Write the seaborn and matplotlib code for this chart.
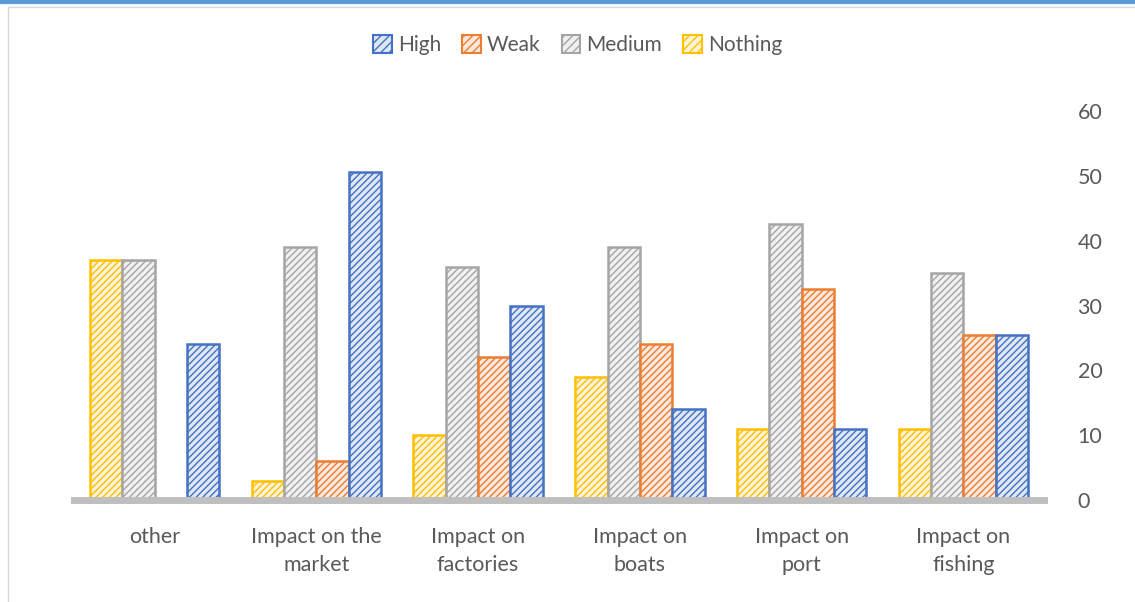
import matplotlib
matplotlib.use("Agg")
import matplotlib.pyplot as plt
import matplotlib.patches as mpatches
from matplotlib.lines import Line2D
import seaborn as sns
import pandas as pd

categories = ["other", "Impact on the\nmarket", "Impact on\nfactories",
              "Impact on\nboats", "Impact on\nport", "Impact on\nfishing"]
nothing = [37, 3, 10, 19, 11, 11]
medium = [37, 39, 36, 39, 42.5, 35]
weak = [0, 6, 22, 24, 32.5, 25.5]
high = [24, 50.5, 30, 14, 11, 25.5]
series_order = ["Nothing", "Medium", "Weak", "High"]
legend_order = ["High", "Weak", "Medium", "Nothing"]

edge_colors = {"Nothing": "#FFC000", "Medium": "#A5A5A5", "Weak": "#ED7D31", "High": "#4472C4"}
face_colors = {"Nothing": "#FFF5D6", "Medium": "#F0F0F0", "Weak": "#FCE8DA", "High": "#DCE6F5"}

rows = []
for name, vals in zip(series_order, [nothing, medium, weak, high]):
    for c, v in zip(categories, vals):
        rows.append({"category": c, "series": name, "value": v})
df = pd.DataFrame(rows)

sns.set_style("white")
plt.rcParams["font.family"] = ["Lato", "DejaVu Sans"]

fig = plt.figure(figsize=(11.35, 6.02), dpi=100)
ax = fig.add_axes([0.065, 0.169, 0.855, 0.647])

sns.barplot(data=df, x="category", y="value", hue="series", order=categories,
            hue_order=series_order, palette=face_colors, width=0.8, gap=0.0,
            ax=ax, legend=False)

for cont, name in zip(ax.containers, series_order):
    for bar in cont:
        bar.set_edgecolor(edge_colors[name])
        bar.set_hatch("/////")
        bar.set_linewidth(1.8)

ax.set_ylim(0, 60)
ax.set_yticks(range(0, 61, 10))
ax.yaxis.tick_right()
ax.tick_params(axis="y", length=0, labelsize=15.5, labelcolor="#595959", pad=24)
ax.tick_params(axis="x", length=0, labelsize=15.5, labelcolor="#595959", pad=19)
for lab in ax.get_xticklabels():
    lab.set_linespacing(1.55)
ax.set_xlabel("")
ax.set_ylabel("")
for s in ["top", "left", "right"]:
    ax.spines[s].set_visible(False)
ax.spines["bottom"].set_color("#BFBFBF")
ax.spines["bottom"].set_linewidth(5)

handles = [mpatches.Patch(facecolor=face_colors[n], edgecolor=edge_colors[n],
                          hatch="////", linewidth=1.5, label=n) for n in legend_order]
fig.legend(handles=handles, loc="center", bbox_to_anchor=(0.509, 0.925), ncol=4,
           frameon=False, fontsize=15, handlelength=0.9, handleheight=0.9,
           handletextpad=0.3, columnspacing=1.0, labelcolor="#595959")

fig.add_artist(mpatches.Rectangle((0.007, -0.01), 1.0, 0.998, transform=fig.transFigure,
                                  fill=False, edgecolor="#D9D9D9", linewidth=1))
fig.add_artist(Line2D([0, 1], [0.997, 0.997], transform=fig.transFigure,
                      color="#5B9BD5", linewidth=3))

fig.savefig("out.png", dpi=100)
